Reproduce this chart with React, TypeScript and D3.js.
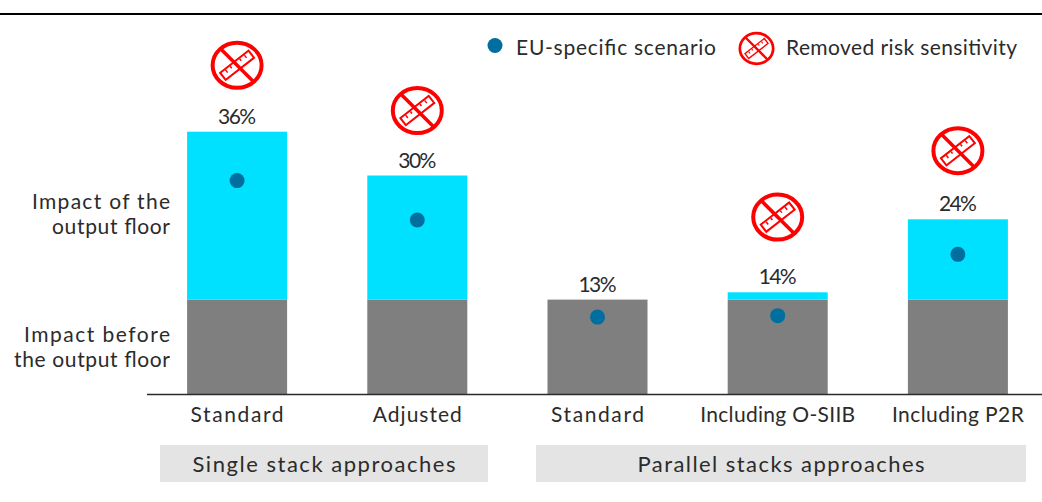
import React from "react";
import * as d3 from "d3";

// Capital impact by approach, in percent
const categories = ["Standard", "Adjusted", "Standard", "Including O-SIIB", "Including P2R"];
const beforeFloor = [13, 13, 13, 13, 13];
const totalImpact = [36, 30, 13, 14, 24];
const euScenario = [29.3, 23.9, 10.6, 10.8, 19.2];
// Height of the "removed risk sensitivity" badge on the value axis; null means no badge
const badgeLevel: (number | null)[] = [45.1, 38.9, null, 24.3, 33.4];

const groups = [
  { label: "Single stack approaches", from: 160, to: 488 },
  { label: "Parallel stacks approaches", from: 536, to: 1026 },
];
const sideLabels = [
  { lines: ["Impact of the", "output floor"], y: 209 },
  { lines: ["Impact before", "the output floor"], y: 342 },
];

const WIDTH = 1042;
const HEIGHT = 502;
const BASELINE = 394.5;
const FONT = "'Lato', 'Open Sans', sans-serif";
const INK = "#2b2b2b";
const CYAN = "#00e1ff";
const GREY = "#7f7f7f";
const DOT = "#006e9e";
const RED = "#ff0000";

const x = d3.scaleBand<number>().domain(d3.range(categories.length)).range([147, 1048]).paddingInner(0.445).paddingOuter(0.2225);
const y = d3.scaleLinear().domain([0, 36]).range([BASELINE, BASELINE - 36 * 7.3]);

function Badge({ cx, cy, scale = 1 }: { cx: number; cy: number; scale?: number }) {
  return (
    <g transform={`translate(${cx},${cy}) scale(${scale})`}>
      <ellipse rx={24.5} ry={22.5} fill="#fff" stroke={RED} strokeWidth={4} />
      <g transform="rotate(-38)">
        <rect x={-18} y={-4.5} width={36} height={9} fill="#fff" stroke={RED} strokeWidth={2} />
        {[-12, -6, 0, 6, 12].map((t, i) => (
          <line key={i} x1={t} x2={t} y1={-3.5} y2={i % 2 ? -1 : 0} stroke={RED} strokeWidth={1.5} />
        ))}
      </g>
      <line x1={-16.5} y1={-16.5} x2={16.5} y2={16.5} stroke={RED} strokeWidth={3.5} />
    </g>
  );
}

function Label(props: { x: number; y: number; size: number; width?: number; anchor?: string; children: string }) {
  const { x: tx, y: ty, size, width, anchor = "middle", children } = props;
  return (
    <text
      x={tx}
      y={ty}
      fontSize={size}
      fontFamily={FONT}
      fontWeight={400}
      fill={INK}
      textAnchor={anchor}
      textLength={width}
      lengthAdjust={width ? "spacing" : undefined}
    >
      {children}
    </text>
  );
}

const categoryWidths = [93, 89, 93, 155, 132];
const sideWidths: Record<string, number> = {
  "Impact of the": 138,
  "output floor": 118,
  "Impact before": 146,
  "the output floor": 156,
};

export default function App() {
  const bw = x.bandwidth();
  return (
    <svg width={WIDTH} height={HEIGHT} viewBox={`0 0 ${WIDTH} ${HEIGHT}`} style={{ position: "absolute", left: 0, top: 0, display: "block" }}>
      <rect width={WIDTH} height={HEIGHT} fill="#fff" />
      <line x1={0} x2={WIDTH} y1={14} y2={14} stroke="#000" strokeWidth={2} />

      {categories.map((c, i) => {
        const bx = x(i)!;
        const cx = bx + bw / 2;
        const level = badgeLevel[i];
        return (
          <g key={i}>
            <rect x={bx} y={y(beforeFloor[i])} width={bw} height={y(0) - y(beforeFloor[i])} fill={GREY} />
            {totalImpact[i] > beforeFloor[i] && (
              <rect x={bx} y={y(totalImpact[i])} width={bw} height={y(beforeFloor[i]) - y(totalImpact[i])} fill={CYAN} />
            )}
            <circle cx={cx} cy={y(euScenario[i])} r={7.5} fill={DOT} />
            <Label x={cx} y={y(totalImpact[i]) - 8} size={21} width={38}>{`${totalImpact[i]}%`}</Label>
            {level !== null && <Badge cx={cx} cy={y(level)} />}
            <Label x={cx} y={422} size={21} width={categoryWidths[i]}>{c}</Label>
          </g>
        );
      })}

      <line x1={147} x2={WIDTH} y1={BASELINE} y2={BASELINE} stroke={INK} strokeWidth={1.5} />

      {sideLabels.map((s) =>
        s.lines.map((l, j) => (
          <Label key={l} x={170} y={s.y + j * 25} size={21} anchor="end" width={sideWidths[l]}>{l}</Label>
        ))
      )}

      {groups.map((g) => (
        <g key={g.label}>
          <rect x={g.from} y={445} width={g.to - g.from} height={37} fill="#e4e4e4" />
          <Label x={(g.from + g.to) / 2} y={472} size={22} width={g.from === 160 ? 263 : 287}>{g.label}</Label>
        </g>
      ))}

      <circle cx={495} cy={45.5} r={7.5} fill={DOT} />
      <Label x={516} y={55} size={21} anchor="start" width={200}>EU-specific scenario</Label>
      <Badge cx={756.5} cy={48.5} scale={0.68} />
      <Label x={786} y={55} size={21} anchor="start" width={231}>Removed risk sensitivity</Label>
    </svg>
  );
}
